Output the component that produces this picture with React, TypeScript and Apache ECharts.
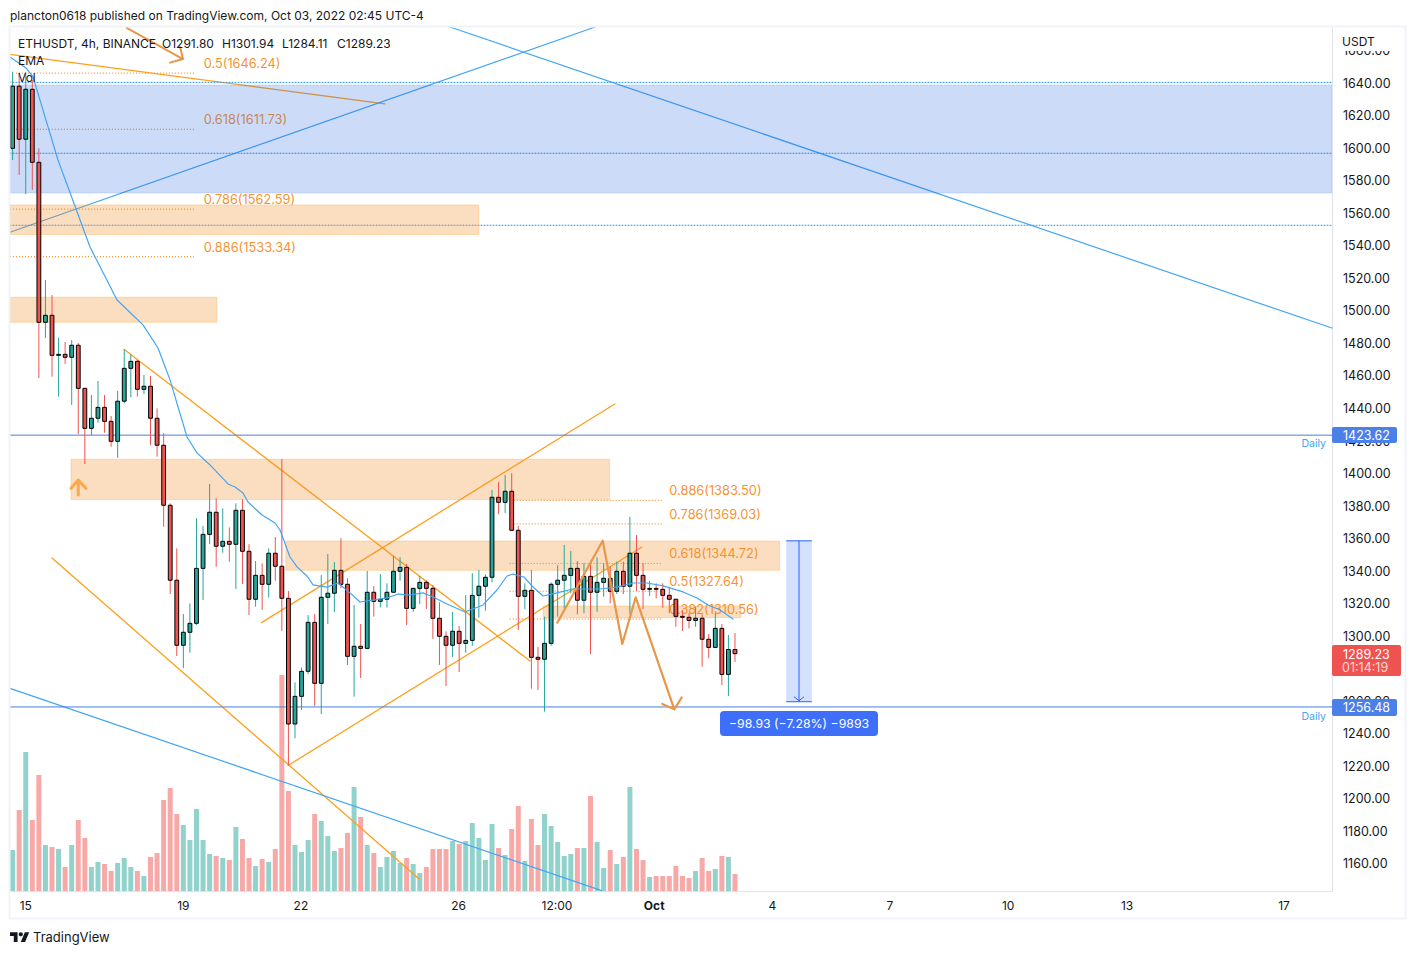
import { useEffect, useRef } from 'react';
import * as echarts from 'echarts';

const FONT = 'Inter, "Liberation Sans", sans-serif';
const UP = '#26a69a';
const DOWN = '#ef5350';
const ORANGE = '#ff9f1c';
const BLUE_LINE = '#42a5f5';

// bars are counted from Sep 14 16:00, six per day
const xTickBars = [2, 26, 43.9, 67.9, 82.9, 97.7, 115.7, 133.6, 151.6, 169.7, 193.6];
const xTickLabels = ['15', '19', '22', '26', '12:00', 'Oct', '4', '7', '10', '13', '17'];
const yTicks = [
  1160, 1180, 1200, 1220, 1240, 1260, 1280, 1300, 1320, 1340, 1360, 1380, 1400, 1420,
  1440, 1460, 1480, 1500, 1520, 1540, 1560, 1580, 1600, 1620, 1640, 1660,
];

const opens = [
  1600.0, 1638.2, 1605.6, 1636.3, 1591.4, 1493.0, 1497.3, 1472.7, 1473.3, 1471.5,
  1478.9, 1452.4, 1427.8, 1434.0, 1440.7, 1432.1, 1419.8, 1444.5, 1464.7, 1469.0,
  1451.8, 1453.7, 1434.0, 1417.4, 1380.5, 1334.4, 1294.4, 1302.4, 1307.9, 1341.7,
  1362.6, 1376.2, 1355.3, 1358.3, 1356.5, 1377.4, 1352.2, 1322.7, 1337.4, 1331.9,
  1351.0, 1343.0, 1323.3, 1246.0, 1263.0, 1278.4, 1308.5, 1271.0, 1323.9, 1326.4,
  1340.5, 1331.9, 1287.6, 1293.8, 1292.5, 1327.0, 1321.4, 1322.7, 1327.0, 1339.9,
  1342.3, 1317.1, 1329.4, 1333.1, 1329.4, 1311.0, 1299.9, 1294.4, 1303.0, 1295.6,
  1297.4, 1325.1, 1330.7, 1336.2, 1385.4, 1382.3, 1389.1, 1365.1, 1324.5, 1328.2,
  1287.0, 1285.8, 1295.6, 1331.9, 1334.4, 1337.4, 1341.7, 1322.1, 1336.8, 1327.0,
  1333.1, 1335.6, 1327.6, 1339.9, 1330.7, 1351.0, 1337.4, 1328.8, 1329.4, 1328.8,
  1325.1, 1322.7, 1312.2, 1311.6, 1309.7, 1311.0, 1298.1, 1293.1, 1304.8, 1276.5,
  1291.8,
];
const closes = [
  1638.2, 1605.6, 1636.3, 1591.4, 1493.0, 1497.3, 1472.7, 1473.3, 1471.5, 1478.9,
  1452.4, 1427.8, 1434.0, 1440.7, 1432.1, 1419.8, 1444.5, 1464.7, 1469.0, 1451.8,
  1453.7, 1434.0, 1417.4, 1380.5, 1334.4, 1294.4, 1302.4, 1307.9, 1341.7, 1362.6,
  1376.2, 1355.3, 1358.3, 1356.5, 1377.4, 1352.2, 1322.7, 1337.4, 1331.9, 1351.0,
  1343.0, 1323.3, 1246.0, 1263.0, 1278.4, 1308.5, 1271.0, 1323.9, 1326.4, 1340.5,
  1331.9, 1287.6, 1293.8, 1292.5, 1327.0, 1321.4, 1322.7, 1327.0, 1339.9, 1342.3,
  1317.1, 1329.4, 1333.1, 1329.4, 1311.0, 1299.9, 1294.4, 1303.0, 1295.6, 1297.4,
  1325.1, 1330.7, 1336.2, 1385.4, 1382.3, 1389.1, 1365.1, 1324.5, 1328.2, 1287.0,
  1285.8, 1295.6, 1331.9, 1334.4, 1337.4, 1341.7, 1322.1, 1336.8, 1327.0, 1333.1,
  1335.6, 1327.6, 1339.9, 1330.7, 1351.0, 1337.4, 1328.8, 1329.4, 1328.8, 1325.1,
  1322.7, 1312.2, 1311.6, 1309.7, 1311.0, 1298.1, 1293.1, 1304.8, 1276.5, 1291.8,
  1289.23,
];
const lows = [
  1592.8, 1583.6, 1571.9, 1574.4, 1458.8, 1483.4, 1459.6, 1447.3, 1467.4, 1442.2,
  1424.3, 1405.9, 1423.7, 1431.3, 1425.1, 1416.5, 1409.7, 1443.2, 1446.9, 1447.3,
  1448.9, 1417.6, 1410.4, 1367.3, 1325.9, 1287.8, 1280.4, 1289.8, 1306.8, 1322.2,
  1356.7, 1342.7, 1351.3, 1345.8, 1329.0, 1332.1, 1313.0, 1318.1, 1316.1, 1323.7,
  1334.1, 1303.2, 1220.3, 1237.2, 1254.6, 1276.7, 1257.1, 1252.1, 1307.5, 1314.9,
  1329.6, 1282.3, 1262.8, 1274.3, 1292.1, 1312.0, 1317.7, 1317.7, 1327.0, 1334.1,
  1306.9, 1314.9, 1319.8, 1316.7, 1298.3, 1282.3, 1269.3, 1287.2, 1278.0, 1289.8,
  1294.1, 1311.3, 1315.7, 1333.1, 1375.1, 1375.7, 1365.1, 1303.8, 1316.7, 1267.7,
  1266.9, 1253.6, 1294.1, 1312.0, 1317.1, 1326.5, 1313.4, 1314.1, 1289.0, 1315.0,
  1324.3, 1320.2, 1325.9, 1325.9, 1313.6, 1327.9, 1316.7, 1324.7, 1323.3, 1317.5,
  1314.2, 1305.8, 1303.2, 1304.8, 1305.8, 1281.2, 1286.4, 1292.7, 1270.0, 1263.2,
  1284.11,
];
const highs = [
  1647.1, 1646.3, 1647.1, 1642.0, 1600.0, 1519.0, 1509.8, 1483.4, 1480.9, 1482.1,
  1480.3, 1452.6, 1448.3, 1456.9, 1448.3, 1435.4, 1450.8, 1476.4, 1473.3, 1469.8,
  1460.6, 1460.0, 1440.1, 1424.8, 1381.7, 1354.0, 1313.6, 1320.2, 1372.5, 1367.7,
  1393.6, 1384.8, 1378.6, 1366.9, 1381.7, 1384.2, 1356.5, 1346.2, 1344.8, 1354.0,
  1361.0, 1408.9, 1327.8, 1271.6, 1280.8, 1313.0, 1313.6, 1337.6, 1350.5, 1345.6,
  1360.2, 1335.6, 1319.2, 1307.5, 1340.1, 1330.8, 1338.2, 1332.5, 1349.3, 1348.5,
  1344.4, 1329.4, 1337.0, 1334.5, 1331.5, 1320.8, 1303.0, 1314.9, 1306.2, 1325.3,
  1338.7, 1340.7, 1338.0, 1389.9, 1394.8, 1399.1, 1400.3, 1367.7, 1332.5, 1340.7,
  1293.5, 1312.0, 1333.1, 1343.6, 1356.1, 1352.4, 1346.2, 1344.8, 1345.2, 1348.5,
  1344.8, 1342.7, 1345.8, 1345.8, 1373.3, 1362.2, 1344.8, 1333.9, 1332.5, 1332.5,
  1330.4, 1322.9, 1316.1, 1314.1, 1318.1, 1313.4, 1301.3, 1314.4, 1307.5, 1300.7,
  1301.94,
];
const volumes = [
  41, 81, 139, 71, 116, 46, 44, 42, 24, 46, 71, 53, 24, 29, 27, 20, 28, 33, 24, 20,
  15, 34, 38, 91, 103, 77, 66, 51, 82, 51, 37, 35, 33, 31, 64, 52, 33, 25, 32, 29,
  42, 216, 100, 46, 39, 51, 77, 70, 55, 40, 43, 58, 104, 74, 46, 38, 24, 34, 40, 28,
  33, 27, 18, 24, 42, 42, 42, 50, 47, 50, 68, 53, 31, 67, 43, 36, 62, 85, 30, 72,
  46, 77, 65, 49, 35, 37, 43, 43, 95, 49, 23, 41, 27, 34, 104, 42, 31, 14, 15, 15,
  15, 25, 15, 13, 20, 33, 20, 22, 35, 34, 17,
];

const emaLine = [
  [-0.4, 1656.2], [2.04, 1649.4], [3.11, 1643.9], [6.91, 1592.8], [11.79, 1539.3],
  [15.9, 1506.7], [19.86, 1491.4], [22.14, 1477.2], [23.97, 1457.6], [26.56, 1422.5],
  [28.08, 1412.7], [30.06, 1405.3], [32.8, 1393.6], [33.87, 1391.7], [35.08, 1388.0],
  [35.84, 1382.5], [37.98, 1374.5], [39.96, 1369.6], [40.72, 1365.3], [42.24, 1348.7],
  [43.31, 1342.6], [44.83, 1337.0], [45.75, 1331.5], [47.88, 1330.2], [49.55, 1332.7],
  [51.38, 1326.6], [52.9, 1321.0], [54.88, 1322.2], [57.01, 1323.5], [58.69, 1325.9],
  [60.51, 1325.3], [62.49, 1326.6], [64.02, 1324.1], [66.15, 1319.8], [68.89, 1314.9],
  [71.63, 1319.2], [73.76, 1328.4], [75.29, 1337.0], [76.2, 1338.2], [77.88, 1336.4],
  [79.25, 1330.2], [80.77, 1324.7], [82.9, 1326.6], [85.34, 1329.0], [89.45, 1329.0],
  [92.04, 1330.2], [94.47, 1332.7], [96.6, 1332.7], [99.04, 1330.9], [102.09, 1327.2],
  [104.22, 1323.5], [105.89, 1319.2], [107.72, 1316.1], [109.7, 1310.6],
];

// drawings, as [bar, price] pairs
const orangeTrends = [
  [[-0.4, 1657.8], [56.7, 1627.3]],
  [[16.96, 1476.4], [78.8, 1284.7]],
  [[37.9, 1308.3], [91.7, 1442.8]],
  [[41.98, 1220.6], [95.8, 1354.7]],
  [[6.0, 1348.1], [61.9, 1150.7]],
];
const blueTrends = [
  [[-0.4, 1548.4], [88.7, 1674.6]],
  [[66.6, 1674.6], [200.9, 1489.5]],
  [[-0.4, 1267.9], [89.7, 1143.5]],
];
const topArrow = [[17.37, 1674.0], [25.95, 1654.9], [23.97, 1652.7], [25.95, 1654.9], [25.49, 1662.5]];
const upArrow = [[10.0, 1386.8], [10.0, 1396.0], [8.89, 1390.9], [10.0, 1396.0], [11.18, 1390.9]];
const zigzag = [
  [82.94, 1308.3], [89.86, 1358.7], [92.84, 1295.2], [94.88, 1323.9], [100.76, 1255.0],
  [98.93, 1258.3], [100.76, 1255.0], [101.89, 1262.4],
];

// [bar from, bar to, price top, price bottom]
const blueZones = [[-0.4, 200.91, 1638.95, 1572.5]];
const orangeZones = [
  [-0.4, 71.0, 1565.2, 1547.0],
  [-0.4, 31.1, 1508.4, 1493.0],
  [8.9, 90.9, 1408.8, 1384.0],
  [41.6, 116.8, 1358.5, 1340.5],
  [80.8, 110.9, 1318.6, 1311.4],
];
const measureBox = [[117.8, 121.7, 1358.63, 1259.7]];

const dottedBlueLevels = [1640.55, 1596.95, 1552.68];
const dailyLevels = [1423.62, 1256.48];

// [bar from, bar to, label bar, price]
const fibLevels = [
  [0.5, 27.6, 29.1, 1646.24],
  [0.5, 27.6, 29.1, 1611.73],
  [-0.4, 27.6, 29.1, 1562.59],
  [-0.4, 27.6, 29.1, 1533.34],
  [76.3, 98.9, 100, 1383.5],
  [76.3, 98.9, 100, 1369.03],
  [75.7, 98.9, 100, 1344.72],
  [75.7, 98.9, 100, 1327.64],
  [75.7, 98.9, 100, 1310.56],
];
const fibLabels = [
  '0.5(1646.24)', '0.618(1611.73)', '0.786(1562.59)', '0.886(1533.34)',
  '0.886(1383.50)', '0.786(1369.03)', '0.618(1344.72)', '0.5(1327.64)', '0.382(1310.56)',
];

const lineSeries = (data: number[][], color: string, width: number, z: number, type: any = 'solid') => ({
  type: 'line',
  data,
  z,
  silent: true,
  symbol: 'none',
  animation: false,
  lineStyle: { color, width, type, cap: 'round', join: 'round' },
});

const zoneSeries = (rows: number[][], fill: string, stroke: string, z: number) => ({
  type: 'custom',
  z,
  silent: true,
  clip: true,
  data: rows,
  renderItem: (_p: any, api: any) => {
    const a = api.coord([api.value(0), api.value(2)]);
    const b = api.coord([api.value(1), api.value(3)]);
    return {
      type: 'rect',
      shape: { x: a[0], y: a[1], width: b[0] - a[0], height: b[1] - a[1] },
      style: { fill, stroke, lineWidth: 1 },
    };
  },
});

const tag = (x: number, y: number, w: number, h: number, fill: string, r = 2) => ({
  type: 'rect',
  z: 100,
  silent: true,
  shape: { x, y, width: w, height: h, r },
  style: { fill },
});

const label = (text: string, x: number, y: number, fill = '#131722', size = 12, align = 'left') => ({
  type: 'text',
  z: 101,
  silent: true,
  x,
  y,
  style: { text, fill, fontSize: size, fontFamily: FONT, align, verticalAlign: 'middle' },
});

echarts.graphic.registerShape(
  'tvlogo',
  echarts.graphic.extendPath('M14 22H7V11H0V4h14v18zM28 22h-8l7.5-18h8L28 22zM20 4a4 4 0 1 1 0 8 4 4 0 0 1 0-8z', {}) as any,
);

export default function App() {
  const chartRef = useRef<HTMLDivElement>(null);

  useEffect(() => {
    if (!chartRef.current) return;
    const chart = echarts.init(chartRef.current, undefined, { renderer: 'svg' });

    const option: any = {
      animation: false,
      backgroundColor: '#ffffff',
      textStyle: { fontFamily: FONT },
      grid: { left: 10, right: 84, top: 27, bottom: 63 },
      xAxis: {
        type: 'value',
        min: -0.396,
        max: 200.91,
        splitLine: { show: false },
        axisLine: { show: true, onZero: false, lineStyle: { color: '#e0e3eb', width: 1 } },
        axisTick: { show: false },
        axisLabel: {
          customValues: xTickBars,
          color: '#131722',
          fontSize: 12,
          fontFamily: FONT,
          margin: 8,
          hideOverlap: false,
          formatter: (v: number) => {
            const text = xTickLabels[xTickBars.indexOf(v)];
            return text === 'Oct' ? '{b|Oct}' : text;
          },
          rich: { b: { fontWeight: 'bold', fontSize: 12, fontFamily: FONT, color: '#131722' } },
        },
      },
      yAxis: [
        {
          type: 'value',
          position: 'right',
          min: 1143.3,
          max: 1674.6,
          splitLine: { show: false },
          axisLine: { show: true, onZero: false, lineStyle: { color: '#e0e3eb', width: 1 } },
          axisTick: { show: false },
          axisLabel: {
            customValues: yTicks,
            color: '#131722',
            fontSize: 12.5,
            fontFamily: FONT,
            margin: 11,
            padding: [0, 0, 1.5, 0],
            hideOverlap: false,
            formatter: (v: number) => v.toFixed(2),
          },
        },
        // volume pane, no scale shown
        { type: 'value', min: 0, max: 864, show: false },
      ],
      series: [
        {
          type: 'bar',
          yAxisIndex: 1,
          z: 1,
          silent: true,
          barWidth: 5,
          data: volumes.map((v, i) => ({
            value: [i, v],
            itemStyle: { color: closes[i] >= opens[i] ? 'rgba(38,166,154,0.5)' : 'rgba(239,83,80,0.5)' },
          })),
        },
        ...orangeTrends.map((d) => lineSeries(d, ORANGE, 1.3, 2)),
        ...blueTrends.map((d) => lineSeries(d, BLUE_LINE, 1.2, 2)),
        lineSeries(topArrow, '#e8974a', 2, 2),
        ...dottedBlueLevels.map((p) =>
          lineSeries([[-0.396, p], [200.91, p]], '#2196f3', 1, 2, [1, 2]),
        ),
        ...dailyLevels.map((p) => lineSeries([[-0.396, p], [200.91, p]], '#4a7fdc', 1, 2)),
        {
          type: 'custom',
          z: 2,
          silent: true,
          data: fibLevels,
          renderItem: (params: any, api: any) => {
            const a = api.coord([api.value(0), api.value(3)]);
            const b = api.coord([api.value(1), api.value(3)]);
            const t = api.coord([api.value(2), api.value(3)]);
            return {
              type: 'group',
              children: [
                {
                  type: 'line',
                  shape: { x1: a[0], y1: a[1], x2: b[0], y2: b[1] },
                  style: { stroke: '#f57c00', lineWidth: 1, lineDash: [1, 2] },
                },
                {
                  type: 'text',
                  x: t[0],
                  y: t[1] - 9.5,
                  style: {
                    text: fibLabels[params.dataIndex],
                    fill: 'rgba(245,124,0,0.85)',
                    fontSize: 12.8,
                    fontFamily: FONT,
                    align: 'left',
                    verticalAlign: 'middle',
                  },
                },
              ],
            };
          },
        },
        zoneSeries(blueZones, 'rgba(33,100,226,0.23)', 'rgba(33,100,226,0.15)', 3),
        zoneSeries(orangeZones, 'rgba(242,142,44,0.3)', 'rgba(255,170,60,0.35)', 3),
        {
          type: 'custom',
          z: 3,
          silent: true,
          data: measureBox,
          renderItem: (_p: any, api: any) => {
            const a = api.coord([api.value(0), api.value(2)]);
            const b = api.coord([api.value(1), api.value(3)]);
            const mid = (a[0] + b[0]) / 2;
            const stroke = '#2962ff';
            return {
              type: 'group',
              children: [
                {
                  type: 'rect',
                  shape: { x: a[0], y: a[1], width: b[0] - a[0], height: b[1] - a[1] },
                  style: { fill: 'rgba(41,98,255,0.2)' },
                },
                { type: 'line', shape: { x1: a[0], y1: a[1], x2: b[0], y2: a[1] }, style: { stroke, lineWidth: 1 } },
                { type: 'line', shape: { x1: a[0], y1: b[1], x2: b[0], y2: b[1] }, style: { stroke, lineWidth: 1 } },
                { type: 'line', shape: { x1: mid, y1: a[1], x2: mid, y2: b[1] }, style: { stroke, lineWidth: 1 } },
                {
                  type: 'polyline',
                  shape: { points: [[mid - 5, b[1] - 5], [mid, b[1] - 1], [mid + 5, b[1] - 5]] },
                  style: { stroke, fill: 'none', lineWidth: 1 },
                },
              ],
            };
          },
        },
        {
          type: 'custom',
          z: 4,
          silent: true,
          data: opens.map((o, i) => [i, o, closes[i], lows[i], highs[i]]),
          encode: { x: 0, y: [1, 2, 3, 4] },
          renderItem: (_p: any, api: any) => {
            const bar = api.value(0);
            const o = api.coord([bar, api.value(1)]);
            const c = api.coord([bar, api.value(2)]);
            const l = api.coord([bar, api.value(3)]);
            const h = api.coord([bar, api.value(4)]);
            const color = api.value(2) >= api.value(1) ? UP : DOWN;
            const top = Math.min(o[1], c[1]);
            const bodyH = Math.max(Math.abs(o[1] - c[1]), 0.5);
            return {
              type: 'group',
              children: [
                {
                  type: 'line',
                  shape: { x1: o[0], y1: h[1], x2: o[0], y2: l[1] },
                  style: { stroke: color, lineWidth: 1 },
                },
                {
                  type: 'rect',
                  shape: { x: o[0] - 1.9, y: top, width: 3.8, height: bodyH },
                  style: { fill: color, stroke: '#000000', lineWidth: 1 },
                },
              ],
            };
          },
        },
        lineSeries(emaLine, BLUE_LINE, 1.2, 5),
        lineSeries(zigzag, '#e8974a', 2.2, 6),
        lineSeries(upArrow, '#fba94c', 3, 6),
      ],
      graphic: {
        elements: [
          // frame
          {
            type: 'rect',
            z: 90,
            silent: true,
            shape: { x: 9.5, y: 26.5, width: 1396, height: 892 },
            style: { fill: 'none', stroke: '#f0f3fa', lineWidth: 2 },
          },
          // hides the clipped top tick behind the currency label
          { type: 'rect', z: 95, silent: true, shape: { x: 1333, y: 28, width: 70, height: 23 }, style: { fill: '#ffffff' } },
          label('plancton0618 published on TradingView.com, Oct 03, 2022 02:45 UTC-4', 10, 15),
          label('ETHUSDT, 4h, BINANCE', 18, 43),
          label('O1291.80', 162, 43),
          label('H1301.94', 222, 43),
          label('L1284.11', 282, 43),
          label('C1289.23', 337, 43),
          label('EMA', 18, 60),
          label('Vol', 18, 77),
          label('USDT', 1342, 41),
          tag(1332, 427, 65, 16, '#4a80e8'),
          label('1423.62', 1343, 435.5, '#ffffff', 12.5),
          tag(1332, 699, 65, 17, '#4a80e8'),
          label('1256.48', 1343, 707.5, '#ffffff', 12.5),
          tag(1332, 645, 69, 31, '#ef5350'),
          label('1289.23', 1343, 654, '#ffffff', 12.5),
          label('01:14:19', 1342, 667, '#fdd9d8', 12.5),
          label('Daily', 1326, 443.5, BLUE_LINE, 10.5, 'right'),
          label('Daily', 1326, 716, BLUE_LINE, 10.5, 'right'),
          tag(720, 711, 158, 25, '#3d6ffb', 4),
          label('\u221298.93 (\u22127.28%) \u22129893', 799, 723.5, '#ffffff', 12.3, 'center'),
          {
            type: 'tvlogo',
            z: 100,
            silent: true,
            x: 10,
            y: 930,
            scaleX: 0.54,
            scaleY: 0.54,
            style: { fill: '#131722' },
          },
          label('TradingView', 33, 937, '#131722', 13),
        ],
      },
    };

    chart.setOption(option);

    return () => {
      chart.dispose();
    };
  }, []);

  return <div ref={chartRef} style={{ position: 'fixed', left: 0, top: 0, width: 1416, height: 954 }} />;
}
